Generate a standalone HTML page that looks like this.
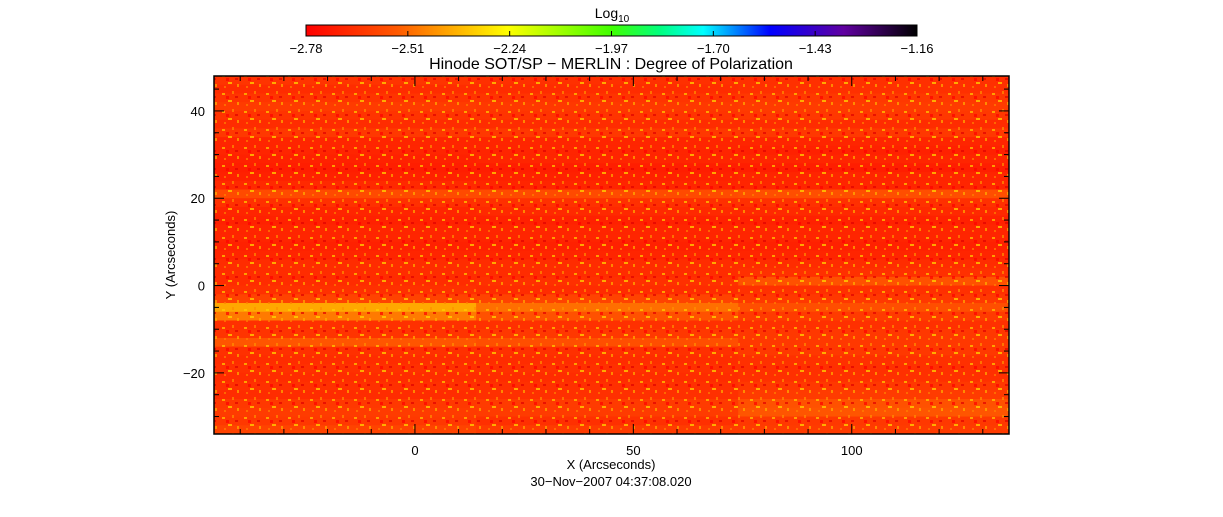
<!DOCTYPE html>
<html><head><meta charset="utf-8"><style>
body{margin:0;background:#fff;width:1223px;height:512px;overflow:hidden;font-family:"Liberation Sans",sans-serif}
svg text{font-family:"Liberation Sans",sans-serif;fill:#000}
</style></head><body>
<svg id="chart" width="1223" height="512" xmlns="http://www.w3.org/2000/svg">
<defs><linearGradient id="cmap" x1="0" x2="1" y1="0" y2="0">
<stop offset="0" stop-color="#ff0000"/><stop offset="0.15" stop-color="#ff5a00"/><stop offset="0.27" stop-color="#ffc800"/><stop offset="0.33" stop-color="#ffff00"/><stop offset="0.5" stop-color="#40ff00"/><stop offset="0.58" stop-color="#00ff80"/><stop offset="0.65" stop-color="#00ffff"/><stop offset="0.76" stop-color="#0000ff"/><stop offset="0.88" stop-color="#6000a0"/><stop offset="1" stop-color="#000000"/></linearGradient>
<pattern id="tex" width="22" height="18" patternUnits="userSpaceOnUse">
<rect x="2" y="3" width="3" height="2" fill="#ffd000"/><rect x="12" y="1" width="2" height="3" fill="#ff9000"/><rect x="8" y="10" width="4" height="2" fill="#ffe000"/><rect x="17" y="12" width="2" height="3" fill="#ffb000"/><rect x="4" y="14" width="2" height="2" fill="#ff8000"/><rect x="15" y="6" width="3" height="2" fill="#e00000"/><rect x="6" y="6" width="3" height="3" fill="#ff0000"/></pattern></defs>
<g id="heat"></g>
<rect x="214" y="76" width="795" height="358" fill="url(#tex)" opacity="0.7"/>
<g id="axes"></g>
</svg>
<script>
const colorMin=-2.78, colorMax=-1.16;
const cbTicks=["-2.78","-2.51","-2.24","-1.97","-1.70","-1.43","-1.16"];
const xTicks=[0,50,100];
const yTicks=[-20,0,20,40];
const rowY=[47,45,43,41,39,37,35,33,31,29,27,25,23,21,19,17,15,13,11,9,7,5,3,1,-1,-3,-5,-7,-9,-11,-13,-15,-17,-19,-21,-23,-25,-27,-29,-31,-33];
const colX=[-46,-16,14,44,74,104];
const colW=32;
const valsA=[-2.64,-2.66,-2.64,-2.62,-2.64,-2.66,-2.63,-2.68,-2.68,-2.69,-2.70,-2.69,-2.67,-2.58,-2.65,-2.68,-2.69,-2.68,-2.68,-2.69,-2.68,-2.66,-2.66,-2.66,-2.65,-2.60,-2.40,-2.48,-2.65,-2.64,-2.55,-2.65,-2.66,-2.65,-2.66,-2.65,-2.66,-2.63,-2.62,-2.63,-2.60];
const valsB=[-2.65,-2.66,-2.64,-2.63,-2.64,-2.66,-2.63,-2.68,-2.68,-2.68,-2.70,-2.69,-2.68,-2.58,-2.65,-2.67,-2.69,-2.68,-2.68,-2.69,-2.68,-2.66,-2.66,-2.65,-2.66,-2.60,-2.50,-2.56,-2.65,-2.63,-2.57,-2.65,-2.66,-2.65,-2.66,-2.65,-2.65,-2.62,-2.62,-2.65,-2.62];
const valsC=[-2.65,-2.65,-2.63,-2.62,-2.63,-2.66,-2.63,-2.68,-2.69,-2.68,-2.70,-2.68,-2.68,-2.57,-2.65,-2.67,-2.69,-2.68,-2.68,-2.69,-2.68,-2.66,-2.65,-2.56,-2.65,-2.63,-2.57,-2.62,-2.65,-2.63,-2.63,-2.63,-2.65,-2.65,-2.65,-2.63,-2.62,-2.56,-2.55,-2.63,-2.62];
const colGroup=[0,0,1,1,2,2];
const NS="http://www.w3.org/2000/svg";
const L=214,R=1009,T=76,B=434,xMin=-46,xMax=136,yMin=-34,yMax=48;
const sx=v=>L+(v-xMin)/(xMax-xMin)*(R-L);
const sy=v=>B-(v-yMin)/(yMax-yMin)*(B-T);
const stops=[[0,[255,0,0]],[0.15,[255,90,0]],[0.27,[255,200,0]],[0.33,[255,255,0]],[0.5,[64,255,0]],[0.58,[0,255,128]],[0.65,[0,255,255]],[0.76,[0,0,255]],[0.88,[96,0,160]],[1,[0,0,0]]];
function col(v){let t=Math.max(0,Math.min(1,(v-colorMin)/(colorMax-colorMin)));for(let i=1;i<stops.length;i++){if(t<=stops[i][0]){const a=stops[i-1],b=stops[i],f=(t-a[0])/(b[0]-a[0]);return 'rgb('+a[1].map((c,k)=>Math.round(c+(b[1][k]-c)*f)).join(',')+')';}}return '#000';}
function mk(tag,at,parent){const e=document.createElementNS(NS,tag);for(const k in at)e.setAttribute(k,at[k]);parent.appendChild(e);return e;}
const heat=document.getElementById('heat'),ax=document.getElementById('axes'),svg=document.getElementById('chart');
const groups=[valsA,valsB,valsC];
rowY.forEach((y,r)=>{colX.forEach((x,c)=>{
 const x2=Math.min(xMax,x+colW);
 const e=mk('rect',{x:sx(x),y:sy(y+1),width:sx(x2)-sx(x)+0.5,height:sy(y-1)-sy(y+1)+0.5,fill:col(groups[colGroup[c]][r])},heat);
 
 
});});
const fr=mk('rect',{x:L,y:T,width:R-L,height:B-T,fill:'none',stroke:'#000','stroke-width':1.5},ax);


for(let v=-40;v<=130;v+=10){const x=sx(v),len=v%50===0?10:5;
 mk('line',{x1:x,x2:x,y1:B,y2:B-len,stroke:'#000'},ax);mk('line',{x1:x,x2:x,y1:T,y2:T+len,stroke:'#000'},ax);}
for(let v=-30;v<=45;v+=5){const y=sy(v),len=v%20===0?10:5;
 mk('line',{x1:L,x2:L+len,y1:y,y2:y,stroke:'#000'},ax);mk('line',{x1:R,x2:R-len,y1:y,y2:y,stroke:'#000'},ax);}
xTicks.forEach(v=>{const t=mk('text',{x:sx(v),y:455,'text-anchor':'middle','font-size':13},ax);t.textContent=v;
 
 });
yTicks.forEach(v=>{const t=mk('text',{x:205,y:sy(v)+5,'text-anchor':'end','font-size':13},ax);t.textContent=v===0?'0':String(v).replace('-','\u2212');
 
 });
const cb=mk('rect',{x:306,y:25,width:611,height:11,fill:'url(#cmap)',stroke:'#000'},svg);


cbTicks.forEach((s,i)=>{const x=306+i*611/(cbTicks.length-1);
 mk('line',{x1:x,x2:x,y1:31,y2:36,stroke:'#000'},svg);
 const t=mk('text',{x:x,y:53,'text-anchor':'middle','font-size':13},svg);t.textContent=s.replace('-','\u2212');
 
 });
</script>
<svg style="position:absolute;left:0;top:0" width="1223" height="512">
<text x="612" y="18" text-anchor="middle" font-size="14">Log<tspan font-size="10" dy="4">10</tspan></text>
<text x="611" y="69" text-anchor="middle" font-size="16">Hinode SOT/SP − MERLIN : Degree of Polarization</text>
<text x="611" y="469" text-anchor="middle" font-size="13">X (Arcseconds)</text>
<text x="611" y="486" text-anchor="middle" font-size="13">30−Nov−2007 04:37:08.020</text>
<text transform="translate(175,255) rotate(-90)" text-anchor="middle" font-size="13">Y (Arcseconds)</text>
</svg>
</body></html>
